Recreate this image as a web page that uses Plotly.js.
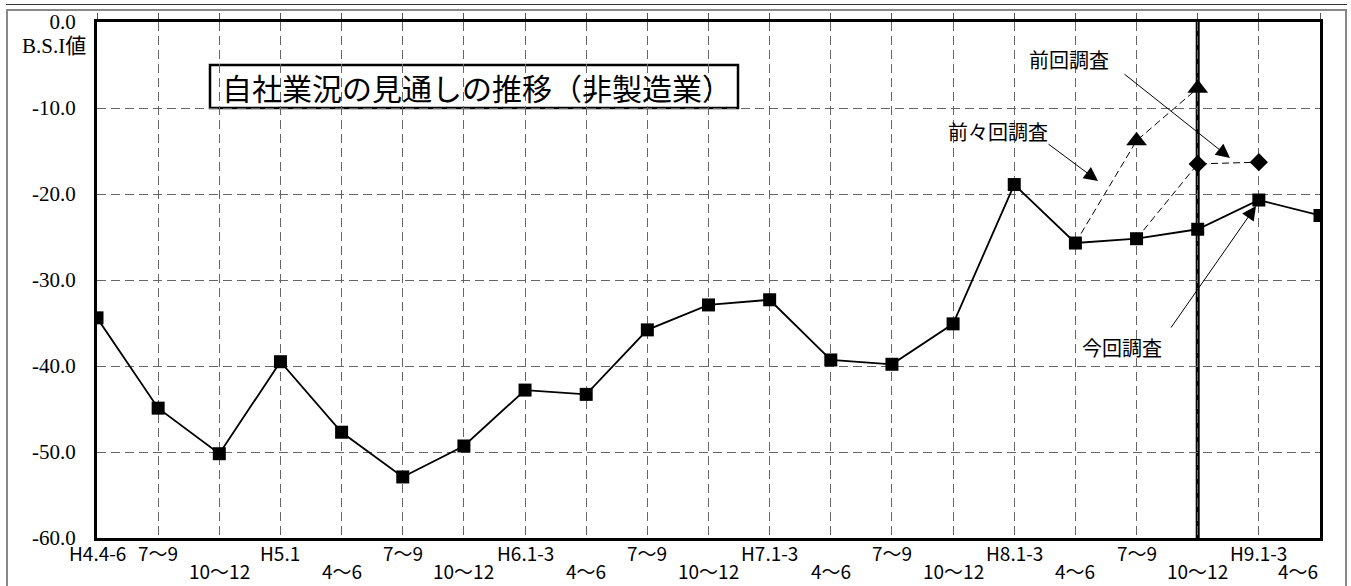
<!DOCTYPE html>
<html>
<head>
<meta charset="utf-8">
<script src="https://cdn.plot.ly/plotly-3.0.1.min.js"></script>
<style>
  html, body { margin: 0; padding: 0; background: #fff; }
  #wrap { position: relative; width: 1351px; height: 586px; }
  #chart { position: absolute; left: 0; top: 0; width: 1351px; height: 586px; }
  .frame { position: absolute; pointer-events: none; }
</style>
</head>
<body>
<div id="wrap">
  <div id="chart"></div>
  <div class="frame" style="left:6px; top:4px; width:1341px; height:0; border-top:1.5px solid #333;"></div>
  <div class="frame" style="left:6px; top:9px; width:1341px; height:0; border-top:2px solid #888;"></div>
  <div class="frame" style="left:6px; top:9px; width:0; height:577px; border-left:2px solid #888;"></div>
  <div class="frame" style="left:1345px; top:9px; width:0; height:577px; border-left:2px solid #888;"></div>
</div>
<script>
// ---- data ----
const categories = ['H4.4-6','7～9','10～12','H5.1','4～6','7～9','10～12','H6.1-3','4～6','7～9','10～12',
                    'H7.1-3','4～6','7～9','10～12','H8.1-3','4～6','7～9','10～12','H9.1-3','4～6'];
// 今回調査 (latest survey B.S.I values)
const currentSurvey = [-34.4,-44.9,-50.2,-39.5,-47.7,-52.9,-49.3,-42.8,-43.3,-35.8,-32.9,
                       -32.3,-39.3,-39.8,-35.1,-18.9,-25.7,-25.2,-24.1,-20.7,-22.5];
// 前々回調査 forecasts (start index and forecast values)
const prev2Start = 16;
const prev2Forecast = [-13.8, -7.7];
// 前回調査 forecasts
const prevStart = 17;
const prevForecast = [-16.5, -16.3];
// current survey period marker (thick vertical line)
const surveyPeriodIndex = 18;
const yTickVals = [0,-10,-20,-30,-40,-50,-60];
const yTickText = ['0.0','-10.0','-20.0','-30.0','-40.0','-50.0','-60.0'];

// ---- layout helpers (pixel -> paper) ----
const W = 1351, Hh = 586;
const M = {l:97, r:31, t:22, b:48};
const PW = W - M.l - M.r, PH = Hh - M.t - M.b;
const px = x => (x - M.l) / PW;
const py = y => 1 - (y - M.t) / PH;

const idx = categories.map((_, i) => i);
const CJK = '"Noto Sans CJK JP", "Noto Sans", sans-serif';
const SERIF = 'Liberation Serif, DejaVu Serif, serif';

function forecastTraces(start, values, symbol, size, name) {
  const xs = [start], ys = [currentSurvey[start]];
  values.forEach((v, k) => { xs.push(start + 1 + k); ys.push(v); });
  return [
    {x: xs, y: ys, type:'scatter', mode:'lines', name: name,
     line:{color:'#000', width:1, dash:'7px,4px'}, hoverinfo:'skip'},
    {x: xs.slice(1), y: ys.slice(1), type:'scatter', mode:'markers', name: name,
     marker:{symbol: symbol, color:'#000', size: size, opacity: 1, line:{width:0}}, hoverinfo:'skip'}
  ];
}

const traces = [
  ...forecastTraces(prev2Start, prev2Forecast, 'triangle-up', 18, '前々回調査'),
  ...forecastTraces(prevStart, prevForecast, 'diamond', 14, '前回調査'),
  {x: idx, y: currentSurvey, type:'scatter', mode:'lines+markers', name:'今回調査',
   line:{color:'#000', width:1.8},
   marker:{symbol:'square', color:'#000', size:13}, hoverinfo:'skip'}
];

const shapes = [
  // current survey period thick line
  {type:'line', xref:'x', yref:'paper', x0:surveyPeriodIndex, x1:surveyPeriodIndex, y0:0, y1:1,
   line:{color:'#000', width:4}, layer:'between'},
  // title box
  {type:'rect', xref:'paper', yref:'paper', x0:px(210), x1:px(738), y0:py(108), y1:py(65),
   fillcolor:'#fff', line:{color:'#000', width:2.5}, layer:'between'}
];

const annotations = [];
categories.forEach((c, i) => {
  const high = (i < 2) || (i % 2 === 1);
  annotations.push({
    x: i, xref:'x', y: 0, yref:'paper', yanchor:'middle',
    xanchor: i === categories.length - 1 ? 'right' : 'center',
    yshift: high ? -14 : -32, text: c, showarrow: false,
    font: {family: CJK, size: 19, color: '#000'}
  });
});
// title
annotations.push({
  x: px(477), y: py(87), xref:'paper', yref:'paper', xanchor:'center', yanchor:'middle',
  text:'自社業況の見通しの推移（非製造業）', showarrow:false,
  font:{family: CJK, size: 30, color:'#000'}
});
// y unit label
annotations.push({
  x: px(88), y: py(46), xref:'paper', yref:'paper', xanchor:'right', yanchor:'middle',
  text:'B.S.I値', showarrow:false,
  font:{family: SERIF + ', Noto Sans CJK JP', size: 21, color:'#000', weight: 'normal'}
});
// callout labels
[['前回調査', 1069, 59], ['前々回調査', 998, 132], ['今回調査', 1122, 347]].forEach(([t, x, y]) => {
  annotations.push({
    x: px(x), y: py(y), xref:'paper', yref:'paper', xanchor:'center', yanchor:'middle',
    text: t, showarrow:false, font:{family: CJK, size: 20, color:'#000'}
  });
});
// callout arrows: [startX, startY, tipX, tipY]
[[1123, 73, 1230, 158], [1047, 143, 1098, 181], [1170, 329, 1256, 206]].forEach(([sx, sy, tx, ty]) => {
  annotations.push({
    x: px(tx), y: py(ty), xref:'paper', yref:'paper', ax: sx - tx, ay: sy - ty,
    text:'', showarrow:true, arrowhead:2, arrowsize:2.8, arrowwidth:1, arrowcolor:'#000'
  });
});

const layout = {
  width: W, height: Hh,
  margin: {l:M.l, r:M.r, t:M.t, b:M.b, pad:0},
  paper_bgcolor:'rgba(0,0,0,0)', plot_bgcolor:'#fff',
  showlegend:false,
  xaxis: {
    range:[0, categories.length - 1], tickvals: idx, showticklabels:false,
    side:'top', ticks:'outside', ticklen:6, tickwidth:1, tickcolor:'#555',
    showgrid:true, gridcolor:'#666', gridwidth:1, griddash:'9px,5px',
    showline:true, linecolor:'#000', linewidth:3, mirror:true, zeroline:false,
    automargin:false, fixedrange:true
  },
  yaxis: {
    range:[-60, 0], tickvals: yTickVals, ticktext: yTickText,
    ticks:'outside', ticklen:14, tickcolor:'rgba(0,0,0,0)',
    tickfont:{family: SERIF, size:21, color:'#000', weight:'normal'},
    showgrid:true, gridcolor:'#666', gridwidth:1, griddash:'9px,5px',
    showline:true, linecolor:'#000', linewidth:3, mirror:true, zeroline:false,
    automargin:false, fixedrange:true
  },
  shapes, annotations
};

Plotly.newPlot('chart', traces, layout, {displayModeBar:false, staticPlot:true});
</script>
</body>
</html>
